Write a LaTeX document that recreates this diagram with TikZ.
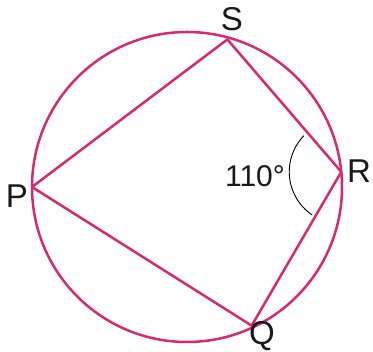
\documentclass[tikz,border=0pt]{standalone}
\usepackage{fontspec}
\setmainfont{Liberation Sans}
\usetikzlibrary{calc}
\definecolor{pinkline}{RGB}{214,42,108}
\definecolor{txt}{RGB}{25,25,25}
\tikzset{
  pline/.style={draw=pinkline, line width=2.5pt},
  lbl/.style={text=txt, font=\fontsize{33}{33}\selectfont, inner sep=0pt},
  anglbl/.style={text=txt, font=\fontsize{30}{30}\selectfont, inner sep=0pt},
  anglearc/.style={draw=black, line width=0.9pt}
}
\begin{document}
\begin{tikzpicture}[x=1pt,y=1pt]
\useasboundingbox (0,0) rectangle (373,352);
\coordinate (O) at (187,165);
\coordinate (P) at ($(O)+(180:155)$);
\coordinate (S) at ($(O)+(74.7:153)$);
\coordinate (R) at ($(O)+(5.6:155)$);
\coordinate (Q) at ($(O)+(-65:153)$);
\draw[pline] (O) circle (155);
\draw[pline, line join=round] (P) -- (S) -- (R) -- (Q) -- cycle;
\draw[anglearc] ([shift={(136:52)}]R) arc (136:236:52);
\node[lbl] (lS) at (232,333) {S};
\node[lbl] (lP) at (17,156) {P};
\node[lbl] (lR) at (359,181) {R};
\node[lbl] (lQ) at (262,16) {Q};
\node[anglbl] (ang) at (255,176) {110°};
\end{tikzpicture}
\end{document}
